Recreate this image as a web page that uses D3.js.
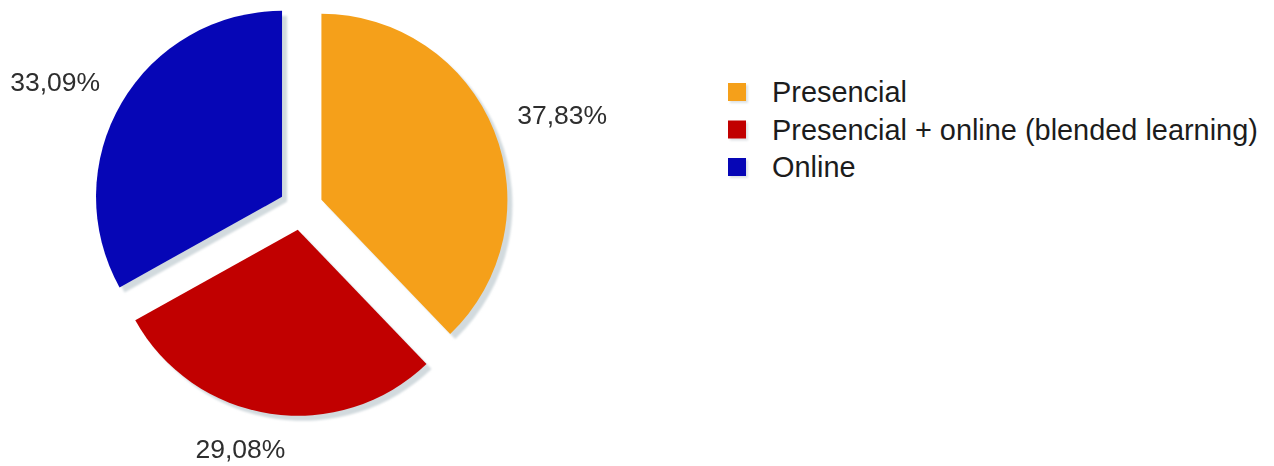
<!DOCTYPE html>
<html>
<head>
<meta charset="utf-8">
<script src="https://cdn.jsdelivr.net/npm/d3@7"></script>
<style>
  html, body { margin: 0; padding: 0; background: #ffffff; }
  svg { display: block; }
</style>
</head>
<body>
<svg id="chart" width="1274" height="466"></svg>
<script>
const categories = ["Presencial", "Presencial + online (blended learning)", "Online"];
const values = [37.83, 29.08, 33.09];
const labels = ["37,83%", "29,08%", "33,09%"];
const colors = ["#f5a01a", "#c10000", "#0606b6"];

const W = 1274, H = 466;
const svg = d3.select("#chart");
const cx = 301, cy = 208, R = 186, explode = 22;

const defs = svg.append("defs");
defs.append("filter").attr("id", "blur")
  .attr("x", "-10%").attr("y", "-10%").attr("width", "120%").attr("height", "120%")
  .append("feGaussianBlur").attr("stdDeviation", 1.3);

const pie = d3.pie().sort(null).value(d => d).startAngle(0).endAngle(2 * Math.PI);
const arcs = pie(values);
const arc = d3.arc().innerRadius(0).outerRadius(R);

const mid = a => (a.startAngle + a.endAngle) / 2;
const off = a => [explode * Math.sin(mid(a)), -explode * Math.cos(mid(a))];

const g = svg.append("g").attr("transform", `translate(${cx},${cy})`);

// shadows
g.append("g").attr("filter", "url(#blur)")
  .selectAll("path").data(arcs).join("path")
  .attr("d", arc)
  .attr("fill", "#d2dade")
  .attr("transform", d => { const o = off(d); return `translate(${o[0] + 5},${o[1] + 5})`; });

// slices
g.append("g").selectAll("path").data(arcs).join("path")
  .attr("d", arc)
  .attr("fill", (d, i) => colors[i])
  .attr("transform", d => { const o = off(d); return `translate(${o[0]},${o[1]})`; });

// labels
const rx = 233, ry = 250;
g.append("g").selectAll("text").data(arcs).join("text")
  .each(function (d, i) {
    const a = mid(d);
    const s = Math.sin(a), c = Math.cos(a);
    const t = d3.select(this);
    if (Math.abs(s) < 0.3) {
      t.attr("x", rx * s - 26).attr("y", -233 * c).attr("text-anchor", "middle")
        .attr("dy", c < 0 ? "0.72em" : "0");
    } else {
      t.attr("x", rx * s).attr("y", -ry * c)
        .attr("text-anchor", s > 0 ? "start" : "end").attr("dy", "0.36em");
    }
  })
  .attr("font-family", "'Liberation Sans', Arial, sans-serif")
  .attr("font-size", 26.5)
  .attr("fill", "#2e2e2e")
  .text((d, i) => labels[i]);

// legend
const ly = d3.scalePoint().domain(categories).range([92, 167]);
const lg = svg.append("g");
const items = lg.selectAll("g").data(categories).join("g")
  .attr("transform", d => `translate(728,${ly(d)})`);
items.append("rect").attr("x", 2).attr("y", -7).attr("width", 18).attr("height", 18)
  .attr("fill", "#dde2e5").attr("filter", "url(#blur)");
items.append("rect").attr("x", 0).attr("y", -9).attr("width", 18).attr("height", 18)
  .attr("fill", (d, i) => colors[i]);
items.append("text").attr("x", 44).attr("y", 0).attr("dy", "0.36em")
  .attr("font-family", "'Liberation Sans', Arial, sans-serif")
  .attr("font-size", 28.9)
  .attr("fill", "#1c1c1c")
  .text(d => d);
</script>
</body>
</html>
